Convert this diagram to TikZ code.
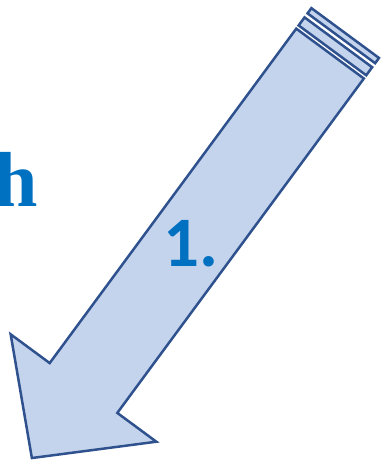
\documentclass[tikz,border=0pt]{standalone}
\usepackage{fontspec}
\newfontfamily\calibri{Carlito}
\newfontfamily\titleserif{Liberation Serif}
\usetikzlibrary{positioning}
\definecolor{arrowfill}{RGB}{197,212,237}
\definecolor{arrowline}{RGB}{47,82,143}
\definecolor{stepcol}{RGB}{0,112,192}
\tikzset{
  % body of the striped arrow
  arrowpart/.style={draw=arrowline, fill=arrowfill, line width=2.5pt, line join=miter},
  % step number on the arrow
  steplabel/.style={font=\calibri\bfseries\fontsize{71}{71}\selectfont, text=stepcol, inner sep=0pt},
  % cut-off heading text
  headtext/.style={font=\titleserif\bfseries\fontsize{78}{78}\selectfont, text=stepcol, inner sep=0pt},
}
\begin{document}
\begin{tikzpicture}[x=1pt,y=-1pt]
  \useasboundingbox (0,0) rectangle (382,462);
  \clip (0,0) rectangle (382,462);
  \begin{scope}[shift={(83.5,388)}, rotate=53.6]
    \draw[arrowpart] (-87,0) -- (0,90.5) -- (0,42) -- (415.5,42) -- (415.5,-42)
      -- (0,-42) -- (0,-90.5) -- cycle;
    \draw[arrowpart] (419.5,-42) rectangle (429.5,42);
    \draw[arrowpart] (434.5,-42) rectangle (441,42);
  \end{scope}
  \node[steplabel, anchor=base] (step) at (191,266) {1.};
  \node[headtext, anchor=base west] (head) at (-6,206) {h};
\end{tikzpicture}
\end{document}
